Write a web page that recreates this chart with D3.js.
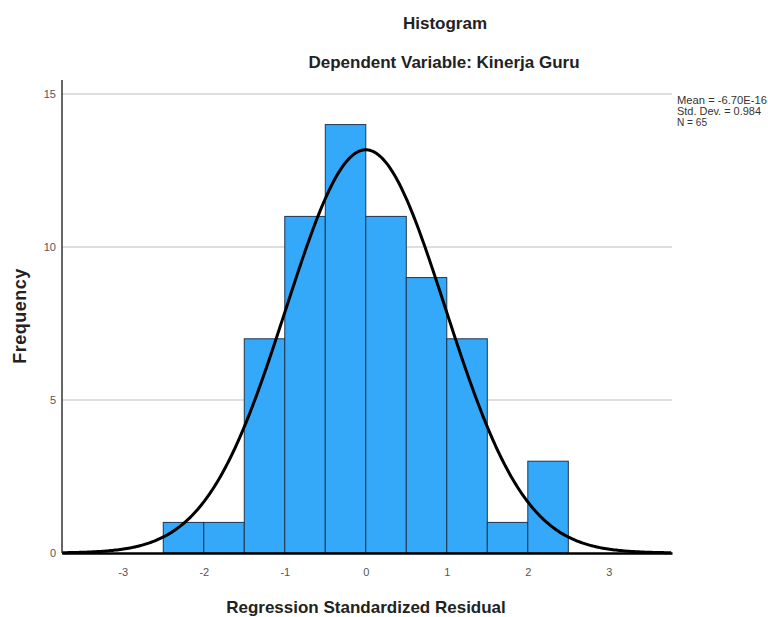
<!DOCTYPE html>
<html>
<head>
<meta charset="utf-8">
<script src="https://cdn.jsdelivr.net/npm/d3@7"></script>
<style>
  body { margin: 0; background: #fff; }
  text { font-family: "Liberation Sans", Arial, sans-serif; }
</style>
</head>
<body>
<div id="chart"></div>
<script>
  // bins of the standardized residual, width 0.5
  const binStarts = [-2.5, -2.0, -1.5, -1.0, -0.5, 0.0, 0.5, 1.0, 1.5, 2.0];
  const counts = [1, 1, 7, 11, 14, 11, 9, 7, 1, 3];
  const xTicks = [-3, -2, -1, 0, 1, 2, 3];
  const yTicks = [0, 5, 10, 15];
  const mean = -6.70e-16;
  const sd = 0.984;
  const n = 65;
  const binWidth = 0.5;

  const width = 768;
  const height = 617;
  const margin = { top: 94, bottom: 64, left: 62, right: 96 };

  const svg = d3.select('#chart')
    .append('svg')
    .attr('width', width)
    .attr('height', height);

  const x = d3.scaleLinear()
    .domain([-3.75, 3.78])
    .range([margin.left, width - margin.right]);
  const y = d3.scaleLinear()
    .domain([0, 15])
    .range([height - margin.bottom, margin.top]);

  // grid lines
  svg.append('g')
    .selectAll('line')
    .data(yTicks.filter(d => d > 0))
    .join('line')
      .attr('x1', margin.left)
      .attr('x2', width - margin.right)
      .attr('y1', d => y(d))
      .attr('y2', d => y(d))
      .attr('stroke', '#bdbdbd')
      .attr('stroke-width', 1);

  // bars
  svg.append('g')
    .selectAll('rect')
    .data(binStarts.map((s, i) => ({ s, c: counts[i] })))
    .join('rect')
      .attr('x', d => x(d.s))
      .attr('y', d => y(d.c))
      .attr('width', d => x(d.s + binWidth) - x(d.s))
      .attr('height', d => y(0) - y(d.c))
      .attr('fill', '#35a9f9')
      .attr('stroke', '#1e3550')
      .attr('stroke-width', 1);

  // normal curve
  const curvePts = d3.range(-3.75, 3.781, 0.02).map(v => [v,
    n * binWidth / (sd * Math.sqrt(2 * Math.PI)) * Math.exp(-0.5 * ((v - mean) / sd) ** 2)]);
  svg.append('path')
    .datum(curvePts)
    .attr('fill', 'none')
    .attr('stroke', '#000')
    .attr('stroke-width', 3)
    .attr('d', d3.line().x(d => x(d[0])).y(d => y(d[1])));

  // axes
  function yAxis(g) {
    g.attr('transform', `translate(${margin.left},0)`)
      .call(d3.axisLeft(y).tickValues(yTicks).tickSize(0).tickPadding(6).tickFormat(d => String(d)))
      .attr('font-size', '11px');
    g.select('.domain').attr('stroke', '#333').attr('stroke-width', 1.5)
      .attr('d', `M0,${y(0)}V${margin.top - 14}`);
    g.selectAll('text').attr('fill', '#555');
  }
  function xAxis(g) {
    g.attr('transform', `translate(0,${y(0)})`)
      .call(d3.axisBottom(x).tickValues(xTicks).tickSize(0).tickPadding(15).tickFormat(d => String(d)))
      .attr('font-size', '11px');
    g.select('.domain').attr('stroke', '#000').attr('stroke-width', 2.5);
    g.selectAll('text').attr('fill', '#555');
  }
  svg.append('g').call(xAxis);
  svg.append('g').call(yAxis);

  // titles
  svg.append('text').attr('x', 445).attr('y', 29)
    .attr('text-anchor', 'middle').attr('font-size', '17px').attr('font-weight', 'bold').attr('fill', '#222')
    .text('Histogram');
  svg.append('text').attr('x', 444).attr('y', 68)
    .attr('text-anchor', 'middle').attr('font-size', '17px').attr('font-weight', 'bold').attr('fill', '#222')
    .text('Dependent Variable: Kinerja Guru');
  svg.append('text').attr('x', 366).attr('y', 613)
    .attr('text-anchor', 'middle').attr('font-size', '17px').attr('font-weight', 'bold').attr('fill', '#222')
    .text('Regression Standardized Residual');
  svg.append('text')
    .attr('transform', 'translate(26,316) rotate(-90)')
    .attr('text-anchor', 'middle').attr('font-size', '18px').attr('font-weight', 'bold').attr('fill', '#222')
    .attr('letter-spacing', '0.5px')
    .text('Frequency');

  // stats box
  const stats = ['Mean = -6.70E-16', 'Std. Dev. = 0.984', 'N = 65'];
  svg.append('g')
    .selectAll('text')
    .data(stats)
    .join('text')
      .attr('x', 677)
      .attr('y', (d, i) => 104 + i * 11)
      .attr('font-size', '11px')
      .attr('fill', '#333')
      .attr('textLength', (d, i) => [90, 84, 30][i])
      .attr('lengthAdjust', 'spacingAndGlyphs')
      .text(d => d);
</script>
</body>
</html>
